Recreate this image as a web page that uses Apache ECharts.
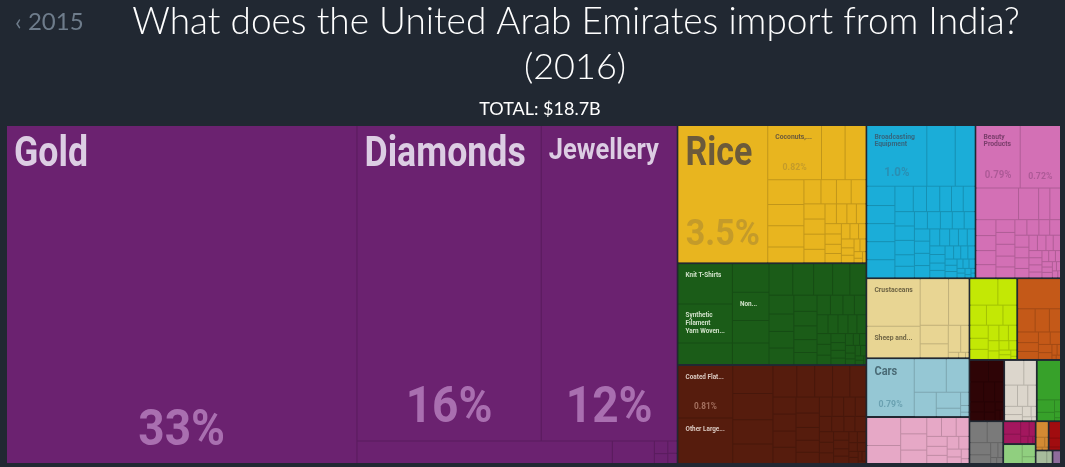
<!DOCTYPE html>
<html><head><meta charset="utf-8">
<script src="https://cdn.jsdelivr.net/npm/echarts@6/dist/echarts.min.js"></script>
<style>html,body{margin:0;padding:0;background:#212832;}#c{width:1065px;height:467px;}</style>
</head><body><div id="c"></div>
<script>
// ---------------- DATA (values in US$ millions) ----------------
const preciousNames = ['Gold','Diamonds','Jewellery','Precious Stones','Silver','Imitation Jewellery','Precious Metal Scraps','Pearls','Platinum'];
const preciousValues = [6255,3070,2262,304,50,9,7,6,5];

const vegNames = ['Rice','Coconuts, Brazil Nuts, and Cashews','Onions','Tea','Pepper','Other Vegetables','Tropical Fruits','Spices','Bananas','Grapes','Other Nuts','Legumes','Wheat Flours','Coffee','Citrus','Cereal Flours','Nutmeg, Mace, Cardamoms','Ginger','Potatoes','Cloves','Oily Seeds','Soybeans','Melons','Other Fruits','Dried Vegetables','Tomatoes','Cabbages','Root Vegetables','Garlic','Cinnamon','Vanilla','Cut Flowers','Live Plants','Apples and Pears','Hops'];
const vegValues = [655,155,68,60,48,41,41,30,22,20,19,19,17,17,17,15,12,11,10,10,9,9,8,8,7,7,6,6,5,5,4,4,3,2,2];

const textileNames = ['Knit T-shirts','Synthetic Filament Yarn Woven Fabric','House Linens',"Knit Women's Suits","Non-Knit Men's Suits","Non-Knit Women's Suits",'Cotton Yarn','Light Pure Woven Cotton','Knit Sweaters',"Non-Knit Women's Shirts",'Other Cloth Articles','Synthetic Filament Yarn',"Non-Knit Men's Shirts",'Heavy Pure Woven Cotton',"Knit Men's Suits",'Scarves','Carpets','Knit Socks and Hosiery',"Babies' Garments",'Synthetic Fabrics','Tulles and Net Fabric','Other Knit Garments','Ties','Jute Yarn','Embroidery','Non-Knit Active Wear','Hat Shapes','Twine and Rope','Knitted Fabrics','Woven Fabric of Jute','Tents','Coated Textile Fabric','Wadding','Non-Knit Gloves',"Knit Babies' Garments",'Raw Silk','Silk Fabrics','Mixed Woven Cotton','Artificial Filament Yarn','Hand-Woven Tapestries','Textile Wall Coverings','Felt','Textile Labels','Padding','Narrow Woven Fabric','Ribbons','Wool Fabric','Cotton Sewing Thread'];
const textileValues = [117,113,63,56,55,44,42,40,35,32,29,27,25,23,22,22,20,18,17,16,15,14,13,12,12,11,10,10,9,9,8,8,7,7,6,6,5,5,4,4,4,3,3,3,3,2,2,1];

const metalNames = ['Coated Flat-Rolled Iron','Other Large Iron Pipes','Iron Structures','Aluminium Plating','Hot-Rolled Iron','Raw Aluminium','Iron Pipes','Other Iron Products','Refined Copper','Copper Wire','Iron Fasteners','Iron Bars','Stainless Steel Flat-Rolled','Aluminium Bars','Cold-Rolled Iron','Iron Wire','Copper Pipes','Aluminium Foil','Iron Sheet Piling','Hand Tools','Cutlery','Kitchen Utensils','Iron Railway Products','Iron Chain','Zinc Bars','Locks','Iron Blocks','Aluminium Structures','Iron Nails','Stranded Iron Wire','Copper Plating','Iron Springs','Saw Blades','Iron Stovetops','Metal Signs','Lead Sheets','Scissors','Base Metal Mountings','Metal Stoppers','Interchangeable Tool Parts','Copper Fasteners','Tin Bars','Nickel Bars','Iron Anchors'];
const metalValues = [153,133,60,56,52,42,40,30,30,29,27,21,21,20,20,20,18,16,15,14,13,12,12,11,10,10,9,9,8,8,8,7,7,6,6,5,5,4,4,3,3,2,2,1];

const machineNames = ['Broadcasting Equipment','Computers','Air Conditioners','Telephones','Electrical Transformers','Insulated Wire','Valves','Pumps','Refrigerators','Electric Motors','Engine Parts','Low-voltage Protection Equipment','Electric Batteries','Centrifuges','Electrical Control Boards','Machinery Having Individual Functions','Liquid Pumps','Ball Bearings','Gas Turbines','Lifting Machinery','Transmissions','Office Machine Parts','Electric Heaters','Generating Sets','Sewing Machines','Semiconductor Devices','Electrical Lighting','Washing Machines','Textile Machinery','Industrial Printers','Combustion Engines','Air Pumps','Electric Soldering Equipment','Excavation Machinery','Metalworking Machines','Packing Machinery','Electrical Capacitors','Electric Filament','Video Displays','Food Processing Machines','Work Trucks','Spark-Ignition Engines','Gaskets','Sound Recordings','Microphones and Headphones','Electrical Ignitions','Vacuum Cleaners','Motorized Hand Tools','Integrated Circuits','Printed Circuit Boards','Electric Resistors','Fans','Weighing Machinery'];
const machineValues = [194,92,64,29,27,27,27,27,25,18,18,16,16,16,15,15,15,12,12,12,12,11,11,10,10,10,10,10,9,9,8,8,7,7,7,6,6,6,5,5,5,4,4,4,3,3,3,2,2,2,1,1,1];

const chemNames = ['Beauty Products','Packaged Medicaments','Pesticides','Soap','Hair Products','Perfumes','Insecticides','Other Organic Compounds','Paints','Cleaning Products','Essential Oils','Dental Products','Vaccines','Glues','Scented Mixtures','Nitrogenous Fertilizers','Synthetic Coloring Matter','Industrial Fatty Acids','Heterocyclic Compounds','Printing Ink','Polishes and Creams','Antibiotics','Lubricating Products','Shaving Products','Medical Dressings','Vitamins','Carboxylic Acids','Other Chemical Products','Sulfonated Compounds','Acyclic Alcohols','Explosive Ammunition','Matches','Photographic Film','Starches','Glaziers Putty','Hydrogen Peroxide','Candles','Tanning Extracts','Fireworks','Sulfuric Acid','Gelatin'];
const chemValues = [148,135,72,34,19,18,17,16,15,14,13,12,12,11,11,10,10,9,9,9,8,8,7,7,7,6,6,5,5,5,4,4,4,3,3,3,3,2,2,2,1];

const animalNames = ['Crustaceans','Sheep and Goat Meat','Bovine Meat','Non-fillet Frozen Fish','Processed Fish','Eggs','Molluscs','Milk','Honey','Cheese','Butter'];
const animalValues = [136,90,71,51,28,21,18,12,3,2,1];

const transportNames = ['Cars','Vehicle Parts','Motorcycles','Delivery Trucks','Tractors','Buses','Trailers','Bicycles','Ships'];
const transportValues = [148,58,41,29,21,11,6,3,2];

const plasticNames = ['Plastic Lids','Rubber Tires','Raw Plastic Sheeting','Other Plastic Sheetings','Plastic Pipes','Plastic Housewares','Polyacetals','Other Plastic Products','Ethylene Polymers','Rubber Belting','Propylene Polymers','Hard Rubber','Rubber Pipes','Rubber Apparel','Vinyl Chloride Polymers','Plastic Floor Coverings','Rubber Thread'];
const plasticValues = [51,33,23,23,19,15,15,13,11,10,9,8,7,6,5,4,2];

const foodNames = ['Other Edible Preparations','Raw Sugar','Baked Goods','Processed Crustaceans','Sauces and Seasonings','Animal Food','Pasta','Fruit Juice','Processed Vegetables','Tobacco','Sugar Confectionery','Processed Fruits','Chocolate','Malt Extract','Non-fermented Juices','Soups and Broths','Coffee and Tea Extracts','Flavored Water','Vinegar'];
const foodValues = [40,27,18,18,15,13,11,10,9,8,7,6,5,5,4,3,3,2,1];

const mineralNames = ['Refined Petroleum','Salt','Cement','Gypsum','Iron Ore','Granite','Coal Tar Oil','Marble, Travertine and Alabaster','Clays','Sand','Petroleum Coke','Slate','Quicklime','Mica','Natural Graphite'];
const mineralValues = [70,22,18,14,12,10,9,8,7,6,5,3,2,1,1];

const hideNames = ['Trunks and Cases','Leather Apparel','Bovine Leather','Other Leather Articles','Saddlery','Sheep Hides','Goat Hides','Raw Hides','Fur Skin Apparel','Leather Further Prepared','Composition Leather','Catgut'];
const hideValues = [22,18,15,12,10,8,7,6,5,4,3,2];

const stoneNames = ['Ceramic Tiles','Glass Bottles','Granite Articles','Ceramic Tableware','Toughened Glass','Glass Fibers','Stone Articles','Float Glass','Refractory Bricks','Ceramic Sinks','Glass Mirrors'];
const stoneValues = [26,17,15,12,10,8,6,5,3,2,1];

const biproductNames = ['Animal or Vegetable Fats','Palm Oil','Castor Oil','Sesame Oil','Margarine','Glycerol'];
const biproductValues = [51,12,8,4,2,1];

const miscNames = ['Furniture','Mattresses','Toys','Lighting Fixtures','Brooms','Pens','Buttons','Combs'];
const miscValues = [20,18,14,10,6,4,2,2];

const paperNames = ['Paper Containers','Printed Books','Other Printed Material','Toilet Paper','Paper Labels','Uncoated Paper','Paper Notebooks'];
const paperValues = [12,9,7,5,3,2,1];

const instrumentNames = ['Medical Instruments','Orthopedic Appliances','Spectacles'];
const instrumentValues = [20,9,5];

const woodNames = ['Wood Carpentry','Wood Crates','Wood Kitchenware','Plywood','Wood Frames'];
const woodValues = [11,5,2,1,1];

const footwearNames = ['Leather Footwear','Rubber Footwear','Other Footwear'];
const footwearValues = [11,6,2];

const artNames = ['Paintings','Antiques'];
const artValues = [8,4];

const weaponNames = ['Military Weapons'];
const weaponValues = [6];

const sectionNames = ['Precious Metals','Vegetable Products','Textiles','Metals','Machines','Chemical Products','Animal Products','Transportation','Plastics and Rubbers','Foodstuffs','Mineral Products','Animal Hides','Stone and Glass','Animal and Vegetable Bi-Products','Miscellaneous','Paper Goods','Instruments','Wood Products','Footwear and Headwear','Arts and Antiques','Weapons'];
const sectionProducts = [
  [preciousNames, preciousValues],[vegNames, vegValues],[textileNames, textileValues],[metalNames, metalValues],
  [machineNames, machineValues],[chemNames, chemValues],[animalNames, animalValues],[transportNames, transportValues],
  [plasticNames, plasticValues],[foodNames, foodValues],[mineralNames, mineralValues],[hideNames, hideValues],
  [stoneNames, stoneValues],[biproductNames, biproductValues],[miscNames, miscValues],[paperNames, paperValues],
  [instrumentNames, instrumentValues],[woodNames, woodValues],[footwearNames, footwearValues],[artNames, artValues],[weaponNames, weaponValues]
];

const titleText = 'What does the United Arab Emirates import from India?';
const yearText = '(2016)';
const totalText = 'TOTAL: $18.7B';
const prevYearText = '\u2039 2015';

// text shown in boxes (as displayed, truncated like the original)
const displayLabels = {
  'Gold':'Gold','Diamonds':'Diamonds','Jewellery':'Jewellery','Rice':'Rice',
  'Coconuts, Brazil Nuts, and Cashews':'Coconuts,...',
  'Broadcasting Equipment':'Broadcasting\nEquipment','Beauty Products':'Beauty\nProducts',
  'Knit T-shirts':'Knit T-Shirts','Synthetic Filament Yarn Woven Fabric':'Synthetic\nFilament\nYarn Woven...',
  "Non-Knit Men's Suits":'Non...','Coated Flat-Rolled Iron':'Coated Flat...','Other Large Iron Pipes':'Other Large...',
  'Crustaceans':'Crustaceans','Sheep and Goat Meat':'Sheep and...','Cars':'Cars'
};
const percentShown = ['Gold','Diamonds','Jewellery','Rice','Coconuts, Brazil Nuts, and Cashews','Broadcasting Equipment','Beauty Products','Packaged Medicaments','Coated Flat-Rolled Iron','Cars'];

// ---------------- STYLES ----------------
const BG = '#212832';
const LABEL_FONT = "Roboto, 'Noto Sans', sans-serif";
const NAME_SQUEEZE = 0.85, PCT_SQUEEZE = 0.92;
const sectionColors = {
  'Precious Metals':'#6b2270','Vegetable Products':'#e8b51f','Textiles':'#1b5c18','Metals':'#561c0d',
  'Machines':'#1badd8','Chemical Products':'#d370b5','Animal Products':'#e8d593','Transportation':'#95c7d4',
  'Plastics and Rubbers':'#e6a8c6','Foodstuffs':'#c3e805','Mineral Products':'#c45918','Animal Hides':'#2e0406',
  'Stone and Glass':'#dcd6cc','Animal and Vegetable Bi-Products':'#37a12a','Miscellaneous':'#7a7a7a',
  'Paper Goods':'#a3175e','Instruments':'#90cf7f','Footwear and Headwear':'#a10c0f','Wood Products':'#d48a33',
  'Arts and Antiques':'#a7bc9c','Weapons':'#8e6c9c'
};
const textColors = {
  'Precious Metals':{name:'#dccde3',pct:'#a96fb0'},
  'Vegetable Products':{name:'#6b5a3b',pct:'#c49b2a'},
  'Textiles':{name:'#cfe0c8',pct:'#5f8a5c'},
  'Metals':{name:'#dccbc3',pct:'#a4705f'},
  'Machines':{name:'#35667e',pct:'#2a8fb3'},
  'Chemical Products':{name:'#7a3d6b',pct:'#ad5a97'},
  'Animal Products':{name:'#6f6545',pct:'#b5a670'},
  'Transportation':{name:'#4a6b76',pct:'#6aa1b1'}
};
const labelSizes = {
  'Gold':{name:42,pct:50},'Diamonds':{name:42,pct:50},'Jewellery':{name:30,pct:50},'Rice':{name:40,pct:37},
  'Coconuts, Brazil Nuts, and Cashews':{name:8,pct:9.5},'Broadcasting Equipment':{name:8,lh:7.5,pct:12.5},
  'Beauty Products':{name:8,lh:7.5,pct:10.5},'Packaged Medicaments':{pct:9.5},
  'Knit T-shirts':{name:7.5},'Synthetic Filament Yarn Woven Fabric':{name:7.5,lh:7.7},"Non-Knit Men's Suits":{name:7.5},
  'Coated Flat-Rolled Iron':{name:7.5,pct:9},'Other Large Iron Pipes':{name:7.5},
  'Crustaceans':{name:8},'Sheep and Goat Meat':{name:8},'Cars':{name:13,pct:9.5}
};

function darken(hex, k) {
  const n = parseInt(hex.slice(1), 16);
  const r = Math.round(((n >> 16) & 255) * (1 - k)), g = Math.round(((n >> 8) & 255) * (1 - k)), b = Math.round((n & 255) * (1 - k));
  return 'rgb(' + r + ',' + g + ',' + b + ')';
}

// ---------------- BUILD ----------------
const treeData = sectionNames.map(function (sec, i) {
  const names = sectionProducts[i][0], vals = sectionProducts[i][1];
  return {
    name: sec,
    itemStyle: { color: sectionColors[sec], borderColor: darken(sectionColors[sec], 0.17) },
    children: names.map(function (n, j) { return { name: n, value: vals[j] }; })
  };
});
let total = 0;
sectionProducts.forEach(function (p) { p[1].forEach(function (v) { total += v; }); });

const chart = echarts.init(document.getElementById('c'), null, { renderer: 'canvas' });
const LEFT = 7, TOP = 126;
chart.setOption({
  backgroundColor: BG,
  animation: false,
  tooltip: { show: false },
  series: [{
    type: 'treemap',
    left: LEFT, top: TOP, width: 1053, height: 337,
    roam: false, nodeClick: false,
    breadcrumb: { show: false },
    visibleMin: 0,
    sort: 'desc',
    squareRatio: 0.5 * (1 + Math.sqrt(5)),
    label: { show: false },
    upperLabel: { show: false },
    itemStyle: { borderWidth: 0, gapWidth: 0, borderColor: 'rgba(0,0,0,0)' },
    emphasis: { disabled: true },
    levels: [
      { itemStyle: { borderWidth: 0, gapWidth: 2, borderColor: BG } },
      { itemStyle: { borderWidth: 0, gapWidth: 1 } },
      { itemStyle: { borderWidth: 0, gapWidth: 0, borderColor: 'rgba(0,0,0,0)' } }
    ],
    data: treeData
  }]
});

// ---------------- LABELS (placed from the treemap's own layout) ----------------
const seriesModel = chart.getModel().getSeriesByIndex(0);
const tree = seriesModel.getData().tree;
const info = seriesModel.layoutInfo || { x: LEFT, y: TOP };
function absRect(node) {
  let x = info.x, y = info.y, n = node;
  while (n) { const l = n.getLayout(); if (l) { x += l.x || 0; y += l.y || 0; } n = n.parentNode; }
  const l = node.getLayout();
  return { x: x, y: y, w: l.width, h: l.height };
}
function fmtPct(v) {
  const p = v / total * 100;
  return (p >= 10 ? String(Math.round(p)) : p.toPrecision(2)) + '%';
}
const elements = [
  { type: 'text', x: 576, y: 22, z: 100, silent: true, style: { text: titleText, fill: '#ffffff', fontFamily: 'Lato', fontWeight: 300, fontSize: 37, align: 'center', verticalAlign: 'middle' } },
  { type: 'text', x: 575, y: 67, z: 100, silent: true, style: { text: yearText, fill: '#ffffff', fontFamily: 'Lato', fontWeight: 300, fontSize: 36, align: 'center', verticalAlign: 'middle' } },
  { type: 'text', x: 540, y: 109, z: 100, silent: true, style: { text: totalText, fill: '#ffffff', fontFamily: 'Lato', fontWeight: 400, fontSize: 18, align: 'center', verticalAlign: 'middle' } },
  { type: 'text', x: 15, y: 22, z: 100, silent: true, style: { text: prevYearText, fill: '#6e7c8b', fontFamily: 'Lato', fontWeight: 400, fontSize: 24, align: 'left', verticalAlign: 'middle' } }
];
tree.root.eachNode(function (node) {
  if (node.children && node.children.length) return;
  const name = node.name;
  const sz = labelSizes[name];
  if (!sz) return;
  const r = absRect(node);
  const tc = textColors[node.parentNode.name] || { name: '#fff', pct: '#ccc' };
  if (displayLabels[name] && sz.name) {
    const f = sz.name, lh = sz.lh || f;
    const capOff = f >= 20 ? 14 : 8;
    elements.push({ type: 'text', z: 100, silent: true, x: r.x + 7, y: r.y + capOff - (lh / 2 - 0.37 * f), scaleX: NAME_SQUEEZE,
      style: { text: displayLabels[name], fill: tc.name, fontFamily: LABEL_FONT, fontWeight: 'bold', fontSize: f, lineHeight: lh, align: 'left', verticalAlign: 'top' } });
  }
  if (percentShown.indexOf(name) >= 0 && sz.pct) {
    const f = sz.pct;
    const pad = f >= 30 ? 13 : 8;
    elements.push({ type: 'text', z: 100, silent: true, x: r.x + r.w / 2, y: r.y + r.h - pad + 0.15 * f, scaleX: PCT_SQUEEZE,
      style: { text: fmtPct(node.getValue()), fill: tc.pct, fontFamily: LABEL_FONT, fontWeight: 'bold', fontSize: f, lineHeight: f, align: 'center', verticalAlign: 'bottom' } });
  }
});
chart.setOption({ graphic: { elements: elements } });
</script></body></html>
